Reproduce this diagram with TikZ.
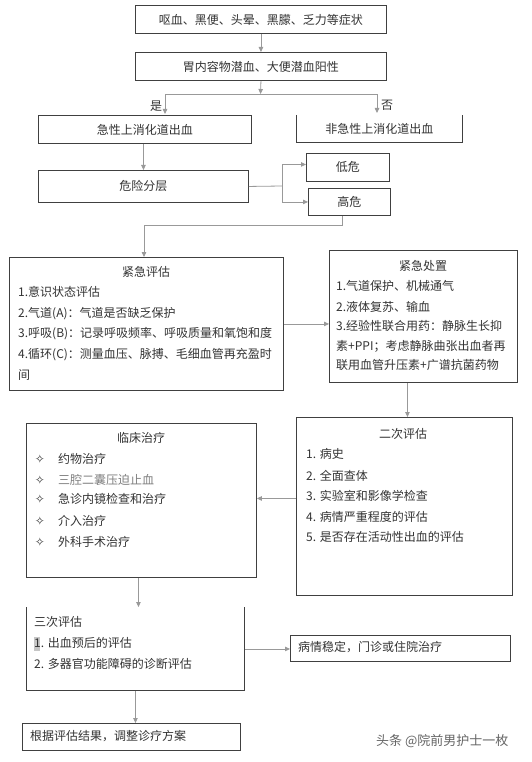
\documentclass[tikz,border=0pt]{standalone}
\usepackage{fontspec}
\setmainfont{Noto Sans CJK SC}
\newfontfamily\symf{DejaVu Sans}
\usetikzlibrary{arrows.meta}
\definecolor{boxc}{HTML}{404040}
\definecolor{arrc}{HTML}{999999}
\definecolor{txtc}{HTML}{333333}
\tikzset{
  box/.style={draw=boxc, line width=0.9pt, inner sep=0pt, anchor=north west, text=txtc, font=\fontsize{12}{14}\selectfont},
  openbox/.style={box, draw=none},
  edgethree/.style={draw=boxc, line width=0.9pt},
  txt/.style={anchor=west, inner sep=0pt, text=txtc, font=\fontsize{12}{14}\selectfont, text height=0.88em, text depth=0.12em},
  ctxt/.style={txt, anchor=center},
  bul/.style={ctxt, text=txtc, font=\symf\fontsize{12}{14}\selectfont},
  conn/.style={draw=arrc, line width=0.8pt},
  arr/.style={conn, -{Triangle[length=5pt,width=4.5pt]}},
}
\begin{document}
\begin{tikzpicture}[x=1pt,y=-1pt]
\useasboundingbox (0,0) rectangle (531,762);
\fill[white] (0,0) rectangle (531,762);

% top boxes
\node[box, minimum width=251pt, minimum height=28pt] (b1) at (135,5) {呕血、黑便、头晕、黑朦、乏力等症状};
\node[box, minimum width=251pt, minimum height=28pt] (b2) at (135,52) {胃内容物潜血、大便潜血阳性};
\node[box, minimum width=213pt, minimum height=28pt] (b3) at (38,115) {急性上消化道出血};
\node[openbox, minimum width=166pt, minimum height=27pt] (b4) at (296,115) {非急性上消化道出血};
\draw[edgethree] (b4.north west) -- (b4.south west) -- (b4.south east) -- (b4.north east);
\node[box, minimum width=210pt, minimum height=32pt] (b5) at (38,170) {危险分层};
\node[box, minimum width=83pt, minimum height=28pt] (lo) at (306,153) {低危};
\node[box, minimum width=82pt, minimum height=27pt] (hi) at (308,188) {高危};

% emergency assessment
\node[box, minimum width=274pt, minimum height=133pt] (ea) at (9,257) {};
\node[ctxt] (eat) at (146,273) {紧急评估};
\node[txt] (ea1) at (18,293) {1.意识状态评估};
\node[txt] (ea2) at (18,314) {2.气道(A)：气道是否缺乏保护};
\node[txt] (ea3) at (18,334) {3.呼吸(B)：记录呼吸频率、呼吸质量和氧饱和度};
\node[txt] (ea4) at (18,355) {4.循环(C)：测量血压、脉搏、毛细血管再充盈时};
\node[txt] (ea5) at (18,376) {间};

% emergency handling
\node[box, minimum width=188pt, minimum height=132pt] (ed) at (329,250) {};
\node[ctxt] (edt) at (423,267) {紧急处置};
\node[txt] (ed1) at (336,287) {1.气道保护、机械通气};
\node[txt] (ed2) at (336,308) {2.液体复苏、输血};
\node[txt] (ed3) at (336,327) {3.经验性联合用药：静脉生长抑};
\node[txt] (ed4) at (336,347) {素+PPI；考虑静脉曲张出血者再};
\node[txt] (ed5) at (336,366) {联用血管升压素+广谱抗菌药物};

% secondary assessment
\node[box, minimum width=216pt, minimum height=178pt] (es) at (296,417) {};
\node[ctxt] (est) at (403,435) {二次评估};
\node[txt] (es1) at (306,455) {1. 病史};
\node[txt] (es2) at (306,477) {2. 全面查体};
\node[txt] (es3) at (306,497) {3. 实验室和影像学检查};
\node[txt] (es4) at (306,518) {4. 病情严重程度的评估};
\node[txt] (es5) at (306,538) {5. 是否存在活动性出血的评估};

% clinical treatment
\node[box, minimum width=230pt, minimum height=154pt] (ct) at (26,423) {};
\node[ctxt] (ctt) at (141,439) {临床治疗};
\node[bul] (d1) at (40,460) {✧};
\node[bul] (d2) at (40,481) {✧};
\node[bul] (d3) at (40,500) {✧};
\node[bul] (d4) at (40,522) {✧};
\node[bul] (d5) at (40,543) {✧};
\node[txt] (ct1) at (58,460) {约物治疗};
\node[txt, text=gray] (ct2) at (58,481) {三腔二囊压迫止血};
\node[txt] (ct3) at (58,500) {急诊内镜检查和治疗};
\node[txt] (ct4) at (58,522) {介入治疗};
\node[txt] (ct5) at (58,543) {外科手术治疗};

% tertiary assessment
\node[openbox, minimum width=218pt, minimum height=83pt] (tr) at (26,607) {};
\draw[edgethree] (tr.north west) -- (tr.south west) -- (tr.south east) -- (tr.north east);
\fill[gray!45] (34,637) rectangle (39.5,651);
\node[txt] (trt) at (34,623) {三次评估};
\node[txt] (tr1) at (34,644) {1. 出血预后的评估};
\node[txt] (tr2) at (34,665) {2. 多器官功能障碍的诊断评估};

\node[box, minimum width=220pt, minimum height=26pt] (st) at (290,635) {};
\node[txt] (stt) at (298,648) {病情稳定，门诊或住院治疗};
\node[box, minimum width=218pt, minimum height=27pt] (ad) at (22,723) {};
\node[txt] (adt) at (30,736.5) {根据评估结果，调整诊疗方案};

\node[txt, text=gray!80!black, font=\fontsize{13}{15}\selectfont] (wm) at (376,742) {头条 @院前男护士一枚};

% connectors
\draw[arr] (b1.south) -- (b2.north);
\coordinate (sp) at (260.5,94);
\draw[arr] (b2.south) -- (sp);
\coordinate (yes) at (165,114);
\coordinate (no) at (377,113);
\draw[arr] (sp) -| (yes);
\draw[arr] (sp) -| (no);
\node[txt] (yeslab) at (150,107) {是};
\node[txt] (nolab) at (381,106) {否};
\draw[arr] (b5.north |- b3.south) -- (b5.north);
\coordinate (fork) at (282,186);
\draw[conn] (b5.east) -- (fork);
\draw[arr] (fork) |- ([yshift=3pt]lo.west);
\draw[arr] (fork) |- (hi.west);
\coordinate (c1) at (144,225);
\draw[arr] ([xshift=-7pt]hi.south) |- (c1) -- (c1 |- ea.north);
\draw[arr] (ea.east) -- (ea.east -| ed.west);
\draw[arr] ([xshift=-16pt]ed.south) -- ([xshift=-16pt]ed.south |- es.north);
\draw[arr] ([yshift=8pt]es.west) -- ([yshift=8pt]es.west -| ct.east);
\draw[arr] ([xshift=-3pt]ct.south) -- ([xshift=-3pt]ct.south |- tr.north);
\draw[arr] (tr.east) -- (tr.east -| st.west);
\draw[arr] (tr.south) -- (tr.south |- ad.north);
\end{tikzpicture}
\end{document}
